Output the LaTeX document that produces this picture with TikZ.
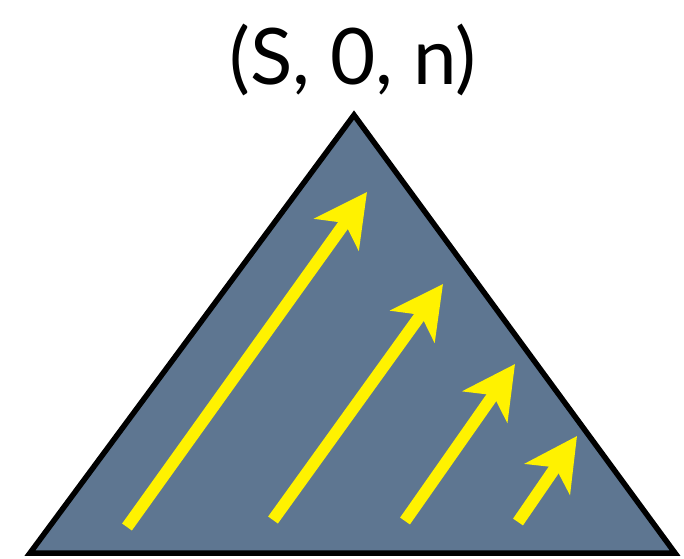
\documentclass[tikz,border=0pt]{standalone}
\usepackage{fontspec}
\setmainfont{Lato}
\usetikzlibrary{arrows.meta}
\definecolor{slate}{RGB}{94,118,145}

\begin{document}
\begin{tikzpicture}[x=1pt,y=-1pt,
    ray/.style={yellow,line width=12pt,
      -{Stealth[length=52pt,width=54pt,inset=14pt]}}]
      \useasboundingbox (0,0) rectangle (684,558);
      \coordinate (apex) at (354,115);
      \coordinate (left) at (30,553);
      \coordinate (right) at (675,553);
      \filldraw[fill=slate,line width=5.5pt,line join=miter] (apex) -- (left) -- (right) -- cycle;
      \node[font=\fontsize{78}{80}\selectfont] (root) at (353,60) {(S, 0, n)};
      % tails and tips of the rays
      \foreach \n/\tx/\ty/\hx/\hy in {1/127/527/367/192, 2/273/520/443/284,
                                      3/405/521/515/364, 4/518/522/577/436} {
        \coordinate (t\n) at (\tx,\ty);
        \coordinate (h\n) at (\hx,\hy);
        \draw[ray] (t\n) -- (h\n);
      }
\end{tikzpicture}
\end{document}
